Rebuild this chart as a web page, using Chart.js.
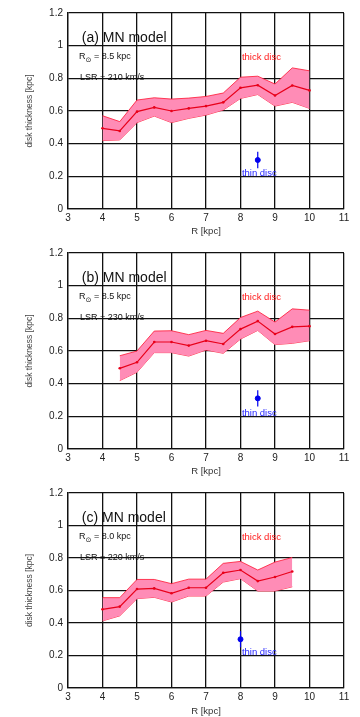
<!DOCTYPE html>
<html>
<head>
<meta charset="utf-8">
<script src="https://cdn.jsdelivr.net/npm/chart.js@4.4.1/dist/chart.umd.min.js"></script>
<style>
  body { margin: 0; background: #fff; }
  canvas { display: block; }
</style>
</head>
<body>
<canvas id="chart-a" width="360" height="240"></canvas>
<canvas id="chart-b" width="360" height="240"></canvas>
<canvas id="chart-c" width="360" height="237"></canvas>
<script>
// panel (a): R_sun 8.5 kpc, LSR 210 km/s
let radiusA = [4, 4.5, 5, 5.5, 6, 6.5, 7, 7.5, 8, 8.5, 9, 9.5, 10];
let thickA  = [0.494, 0.478, 0.596, 0.622, 0.600, 0.616, 0.630, 0.653, 0.742, 0.758, 0.695, 0.756, 0.726];
let upperA  = [0.571, 0.535, 0.667, 0.681, 0.673, 0.679, 0.689, 0.710, 0.807, 0.813, 0.765, 0.864, 0.846];
let lowerA  = [0.419, 0.423, 0.529, 0.569, 0.529, 0.555, 0.575, 0.606, 0.677, 0.701, 0.630, 0.653, 0.616];

// panel (b): R_sun 8.5 kpc, LSR 230 km/s
let radiusB = [4.5, 5, 5.5, 6, 6.5, 7, 7.5, 8, 8.5, 9, 9.5, 10];
let thickB  = [0.494, 0.531, 0.655, 0.655, 0.633, 0.663, 0.643, 0.734, 0.783, 0.704, 0.748, 0.752];
let upperB  = [0.571, 0.600, 0.722, 0.724, 0.700, 0.726, 0.708, 0.805, 0.844, 0.777, 0.858, 0.850];
let lowerB  = [0.419, 0.470, 0.590, 0.590, 0.569, 0.606, 0.586, 0.673, 0.726, 0.639, 0.647, 0.663];

// panel (c): R_sun 8.0 kpc, LSR 220 km/s
let radiusC = [4, 4.5, 5, 5.5, 6, 6.5, 7, 7.5, 8, 8.5, 9, 9.5];
let thickC  = [0.484, 0.501, 0.609, 0.613, 0.583, 0.617, 0.617, 0.709, 0.726, 0.658, 0.683, 0.717];
let upperC  = [0.556, 0.556, 0.668, 0.668, 0.642, 0.670, 0.670, 0.767, 0.779, 0.726, 0.775, 0.803];
let lowerC  = [0.413, 0.444, 0.550, 0.558, 0.529, 0.566, 0.566, 0.652, 0.673, 0.597, 0.597, 0.623];

// thin disc point at the sun, one per panel
let thinR   = [8.5, 8.5, 8.0];
let thinH   = [0.30, 0.31, 0.30];
let thinErr = [0.05, 0.05, 0.05];

let panelTags = ['(a)', '(b)', '(c)'];
let sunDist   = ['8.5', '8.5', '8.0'];
let lsrSpeed  = ['210', '230', '220'];

const FONT = '"Liberation Sans", Arial, sans-serif';

function pts(xs, ys) {
  return xs.map((x, i) => ({ x: x, y: ys[i] }));
}

const notesPlugin = {
  id: 'notes',
  afterDatasetsDraw(chart, args, o) {
    const ctx = chart.ctx;
    const x = chart.scales.x, y = chart.scales.y;
    ctx.save();
    ctx.textBaseline = 'middle';
    ctx.textAlign = 'left';

    ctx.fillStyle = '#111';
    ctx.font = '14px ' + FONT;
    ctx.fillText(o.tag + ' MN model', x.getPixelForValue(3.4), y.getPixelForValue(1.047));

    // R_sun with a small subscript
    let px = x.getPixelForValue(3.32), py = y.getPixelForValue(0.931);
    ctx.font = '9px ' + FONT;
    ctx.fillText('R', px, py);
    px += ctx.measureText('R').width;
    ctx.font = '7px "DejaVu Sans", sans-serif';
    ctx.fillText('\u2299', px, py + 3);
    px += ctx.measureText('\u2299').width;
    ctx.font = '9px ' + FONT;
    ctx.fillText(' = ' + o.sun + ' kpc', px, py);

    ctx.fillText('LSR = ' + o.lsr + ' km/s', x.getPixelForValue(3.35), y.getPixelForValue(0.802));

    ctx.font = '9.5px ' + FONT;
    ctx.fillStyle = '#ff1a1a';
    ctx.fillText('thick disc', x.getPixelForValue(8.04), y.getPixelForValue(0.93));
    ctx.fillStyle = '#2020ff';
    ctx.fillText('thin disc', x.getPixelForValue(8.04), y.getPixelForValue(0.22));
    ctx.restore();
  }
};

function makePanel(id, k, xs, mid, up, low, xTitlePad, xAxisH) {
  let ctx = document.getElementById(id).getContext('2d');
  return new Chart(ctx, {
    type: 'line',
    data: {
      datasets: [
        {
          data: pts(xs, up),
          borderColor: 'rgba(255, 30, 60, 0.85)',
          borderWidth: 1,
          backgroundColor: 'rgb(255, 140, 182)',
          fill: '+1',
          pointRadius: 0,
          order: 3
        },
        {
          data: pts(xs, low),
          borderColor: 'rgba(255, 30, 60, 0.85)',
          borderWidth: 1,
          fill: false,
          pointRadius: 0,
          order: 3
        },
        {
          data: pts(xs, mid),
          borderColor: '#e8001a',
          borderWidth: 1.2,
          pointRadius: 1.3,
          pointBackgroundColor: '#e8001a',
          pointBorderWidth: 0,
          fill: false,
          order: 1
        },
        {
          data: [{ x: thinR[k], y: thinH[k] - thinErr[k] }, { x: thinR[k], y: thinH[k] + thinErr[k] }],
          borderColor: '#0000ee',
          borderWidth: 1.2,
          pointRadius: 0,
          fill: false,
          order: 0
        },
        {
          data: [{ x: thinR[k], y: thinH[k] }],
          borderColor: '#0000ee',
          pointBackgroundColor: '#0000ee',
          pointRadius: 2.5,
          showLine: false,
          order: 0
        }
      ]
    },
    options: {
      responsive: false,
      animation: false,
      layout: { padding: { top: 13, right: 16, left: 0, bottom: 0 } },
      scales: {
        x: {
          type: 'linear',
          min: 3,
          max: 11,
          ticks: { stepSize: 1, color: '#222', padding: 3, font: { family: FONT, size: 10 } },
          grid: { color: '#111', lineWidth: 1.3, drawTicks: false },
          border: { color: '#111', width: 1.3 },
          title: { display: true, text: 'R [kpc]', color: '#333', padding: { top: 0, bottom: xTitlePad }, font: { family: FONT, size: 9.5 } },
          afterFit: s => { s.height = xAxisH; }
        },
        y: {
          min: 0,
          max: 1.2,
          ticks: {
            stepSize: 0.2, color: '#222', padding: 5, font: { family: FONT, size: 10 },
            callback: v => String(+v.toFixed(1))
          },
          grid: { color: '#111', lineWidth: 1.3, drawTicks: false },
          border: { color: '#111', width: 1.3 },
          title: { display: true, text: 'disk thickness [kpc]', color: '#444', padding: { top: 25, bottom: 0 }, font: { family: FONT, size: 8.5 } },
          afterFit: s => { s.width = 68; }
        }
      },
      plugins: {
        legend: { display: false },
        tooltip: { enabled: false },
        notes: { tag: panelTags[k], sun: sunDist[k], lsr: lsrSpeed[k] }
      }
    },
    plugins: [notesPlugin]
  });
}

makePanel('chart-a', 0, radiusA, thickA, upperA, lowerA, 3, 31);
makePanel('chart-b', 1, radiusB, thickB, upperB, lowerB, 3, 31);
makePanel('chart-c', 2, radiusC, thickC, upperC, lowerC, 0, 29);
</script>
</body>
</html>
